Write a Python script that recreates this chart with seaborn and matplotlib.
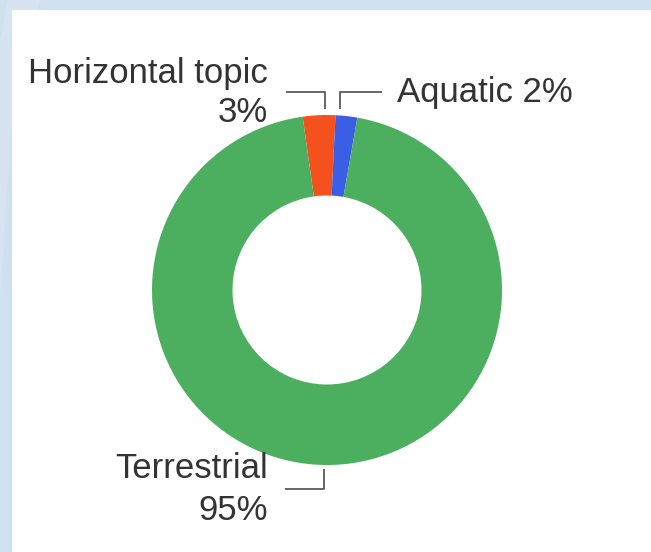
import matplotlib
matplotlib.use("Agg")
import matplotlib.pyplot as plt
from matplotlib.patches import Rectangle, Polygon
import seaborn as sns

# Habitat share of the records (percent)
categories = ["Horizontal topic", "Aquatic", "Terrestrial"]
values = [3, 2, 95]
colors = ["#f4511e", "#3a5ee6", "#4cae5f"]

sns.set_theme(style="white")
plt.rcParams["font.family"] = ["Liberation Sans", "DejaVu Sans"]
palette = sns.color_palette(colors)

W, H = 651, 552
fig = plt.figure(figsize=(W / 100, H / 100), dpi=100)
fig.patch.set_facecolor("#cfe0ef")
ax = fig.add_axes([0, 0, 1, 1])


def Y(py):
    return H - py


# white card behind the chart, with a faint sheen on the backdrop
ax.add_patch(Polygon([(8, Y(0)), (40, Y(0)), (12, Y(120)), (0, Y(300)), (0, Y(40))],
                     closed=True, facecolor="white", alpha=0.15, lw=0, zorder=0))
ax.add_patch(Rectangle((12, 0), W, Y(10), facecolor="white", lw=0, zorder=0.5))

cx, cy, r = 327, Y(290), 175
ax.pie(values, colors=palette, startangle=98, counterclock=False,
       center=(cx, cy), radius=r,
       wedgeprops=dict(width=r * 0.46, linewidth=0), frame=False)

ax.set_xlim(0, W)
ax.set_ylim(0, H)
ax.set_aspect("equal")
ax.axis("off")

txt = dict(fontsize=25, color="#333333", ha="right", va="baseline")
lead = dict(color="#666666", lw=1.4, solid_capstyle="butt", zorder=3)

# Horizontal topic
ax.text(268, Y(83), categories[0], **txt)
ax.text(268, Y(122), f"{values[0]}%", **txt)
ax.plot([286, 325, 325], [Y(92), Y(92), Y(109)], **lead)

# Aquatic
ax.text(397, Y(102), f"{categories[1]} {values[1]}%",
        fontsize=25, color="#333333", ha="left", va="baseline")
ax.plot([340, 340, 382], [Y(109), Y(92), Y(92)], **lead)

# Terrestrial
ax.text(268, Y(478), categories[2], **txt)
ax.text(268, Y(520), f"{values[2]}%", **txt)
ax.plot([324, 324, 285], [Y(469), Y(489), Y(489)], **lead)

fig.savefig("out.png", dpi=100, facecolor=fig.get_facecolor())
